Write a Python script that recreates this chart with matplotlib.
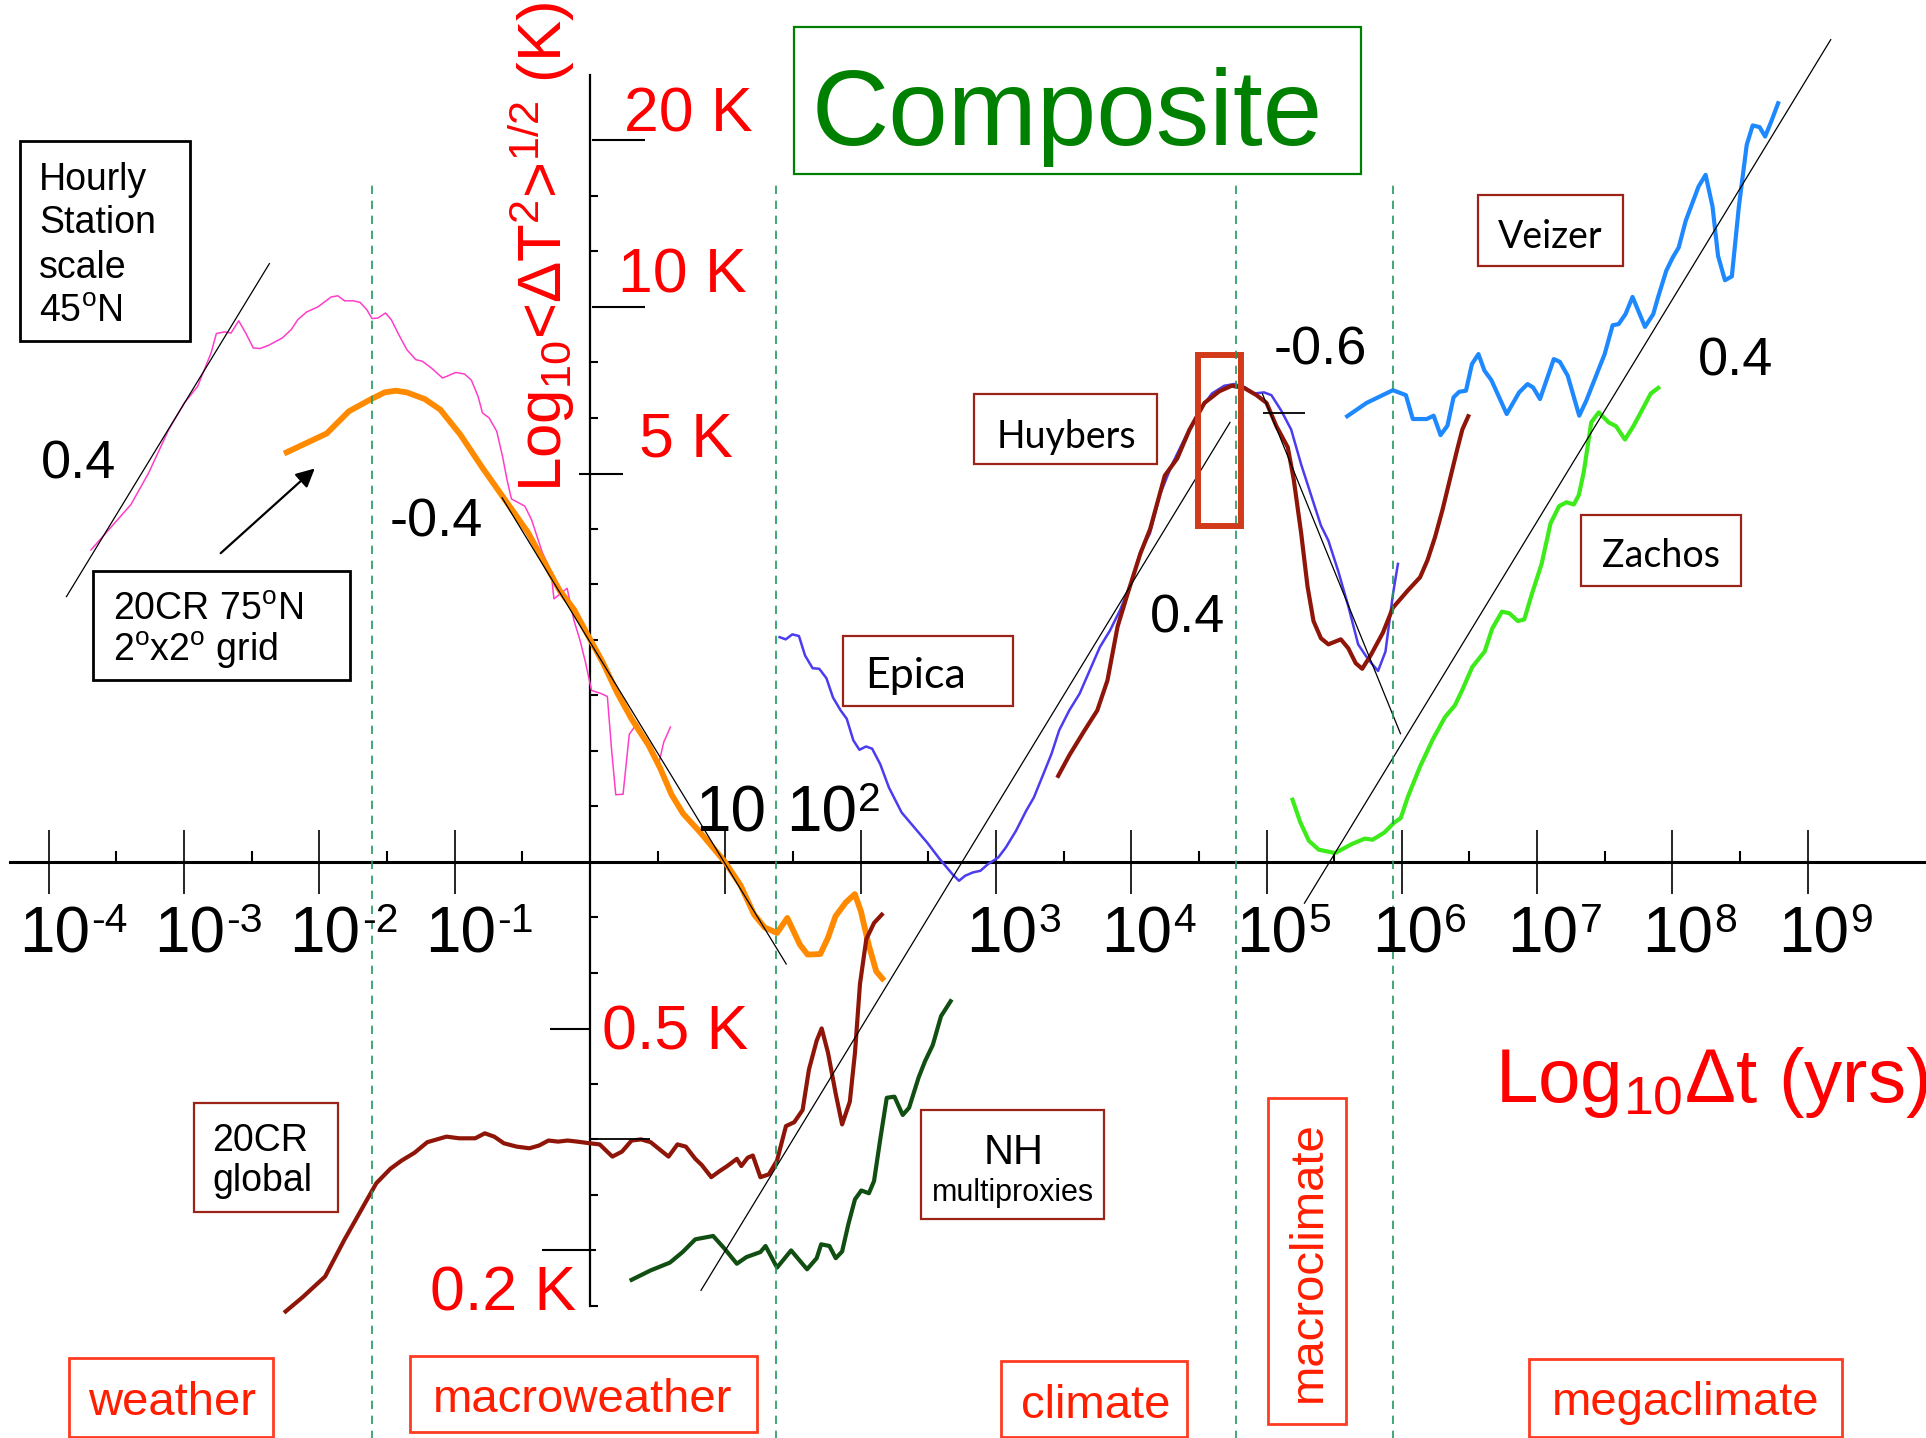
import numpy as np
import matplotlib
matplotlib.use("Agg")
import matplotlib.pyplot as plt
from matplotlib.patches import Rectangle

plt.rcParams["font.family"] = ["Liberation Sans", "DejaVu Sans"]
plt.rcParams["mathtext.fontset"] = "custom"
plt.rcParams["mathtext.rm"] = "Liberation Sans"
plt.rcParams["mathtext.it"] = "Liberation Sans:italic"
plt.rcParams["mathtext.bf"] = "Liberation Sans:bold"

NARROW = ["Liberation Sans Narrow", "Liberation Sans", "DejaVu Sans"]
CALIBRI_LIKE = ["Lato", "DejaVu Sans"]

# ------------------------------------------------------------------
# Composite RMS temperature fluctuation vs time scale
# x: log10(dt / yr), y: log10(<dT^2>^1/2 / K)
# ------------------------------------------------------------------

# hourly station, 45N
station_x = [-3.689, -3.393, -3.262, -3.114, -2.998, -2.900, -2.801, -2.762, -2.702, -2.653,
             -2.597, -2.545, -2.489, -2.439, -2.374, -2.275, -2.209, -2.160, -2.094, -2.012,
             -1.962, -1.913, -1.864, -1.814, -1.749, -1.699, -1.650, -1.611, -1.568, -1.512,
             -1.469, -1.420, -1.354, -1.288, -1.239, -1.173, -1.091, -1.058, -0.992, -0.927,
             -0.877, -0.828, -0.795, -0.746, -0.690, -0.647, -0.614, -0.581, -0.482, -0.433,
             -0.352, -0.288, -0.267, -0.169, -0.119, -0.076, -0.034, 0.011, 0.086, 0.128,
             0.160, 0.190, 0.244, 0.290, 0.349, 0.406, 0.462, 0.507, 0.545, 0.594]
station_y = [0.562, 0.644, 0.701, 0.779, 0.827, 0.857, 0.917, 0.952, 0.955, 0.953,
             0.975, 0.953, 0.926, 0.925, 0.931, 0.944, 0.959, 0.977, 0.991, 1.000,
             1.009, 1.018, 1.020, 1.011, 1.011, 1.008, 0.995, 0.979, 0.980, 0.989,
             0.977, 0.953, 0.923, 0.905, 0.902, 0.890, 0.872, 0.875, 0.882, 0.879,
             0.868, 0.839, 0.809, 0.800, 0.776, 0.731, 0.689, 0.654, 0.641, 0.617,
             0.557, 0.523, 0.474, 0.493, 0.435, 0.401, 0.360, 0.309, 0.303, 0.298,
             0.200, 0.121, 0.122, 0.230, 0.250, 0.219, 0.195, 0.176, 0.216, 0.243]

# 20CR reanalysis, 75N, 2x2 degree grid
r75_x = [-2.242, -1.946, -1.782, -1.617, -1.518, -1.436, -1.354, -1.222, -1.107, -0.959,
         -0.795, -0.610, -0.460, -0.331, -0.225, -0.119, 0.000, 0.093, 0.200, 0.306,
         0.433, 0.518, 0.603, 0.688, 0.815, 0.997, 1.112, 1.213, 1.290, 1.382,
         1.458, 1.551, 1.608, 1.702, 1.758, 1.814, 1.890, 1.957, 2.002, 2.059,
         2.115, 2.160]
r75_y = [0.738, 0.772, 0.812, 0.834, 0.846, 0.849, 0.846, 0.834, 0.815, 0.770,
         0.710, 0.646, 0.594, 0.537, 0.489, 0.455, 0.401, 0.360, 0.305, 0.258,
         0.210, 0.169, 0.121, 0.087, 0.053, 0.000, -0.042, -0.095, -0.118, -0.128,
         -0.101, -0.149, -0.167, -0.166, -0.137, -0.098, -0.073, -0.058, -0.089, -0.149,
         -0.197, -0.210]

# 20CR global mean
glob_x = [-2.250, -2.123, -1.958, -1.816, -1.698, -1.580, -1.476, -1.392, -1.297, -1.203,
          -1.061, -0.967, -0.849, -0.778, -0.708, -0.637, -0.542, -0.448, -0.377, -0.307,
          -0.236, -0.165, -0.094, 0.000, 0.071, 0.165, 0.236, 0.307, 0.377, 0.448,
          0.519, 0.580, 0.646, 0.708, 0.778, 0.825, 0.896, 0.958, 1.014, 1.085,
          1.118, 1.165, 1.203, 1.259, 1.321, 1.382, 1.448, 1.509, 1.571, 1.618,
          1.675, 1.712, 1.759, 1.816, 1.863, 1.920, 1.958, 1.995, 2.042, 2.099, 2.156]
glob_y = [-0.810, -0.784, -0.747, -0.681, -0.630, -0.579, -0.553, -0.538, -0.524, -0.505,
          -0.495, -0.498, -0.498, -0.489, -0.495, -0.507, -0.513, -0.516, -0.511, -0.502,
          -0.504, -0.502, -0.504, -0.507, -0.509, -0.531, -0.522, -0.502, -0.500, -0.505,
          -0.519, -0.531, -0.509, -0.513, -0.535, -0.546, -0.568, -0.557, -0.548, -0.535,
          -0.548, -0.533, -0.529, -0.568, -0.563, -0.538, -0.476, -0.469, -0.447, -0.374,
          -0.322, -0.300, -0.344, -0.418, -0.473, -0.432, -0.344, -0.220, -0.139, -0.110, -0.095]

# Northern Hemisphere multiproxies
nh_x = [0.307, 0.448, 0.590, 0.684, 0.778, 0.910, 0.991, 1.085, 1.156, 1.259,
        1.297, 1.382, 1.486, 1.604, 1.675, 1.708, 1.769, 1.816, 1.863, 1.910,
        1.958, 2.005, 2.061, 2.099, 2.146, 2.193, 2.250, 2.311, 2.358, 2.429,
        2.476, 2.533, 2.594, 2.665]
nh_y = [-0.753, -0.736, -0.722, -0.703, -0.680, -0.674, -0.696, -0.724, -0.712, -0.703,
        -0.692, -0.731, -0.700, -0.734, -0.714, -0.689, -0.692, -0.714, -0.702, -0.652,
        -0.608, -0.592, -0.597, -0.575, -0.498, -0.425, -0.423, -0.456, -0.443, -0.388,
        -0.359, -0.330, -0.278, -0.251]

# Epica ice core
epica_x = [1.401, 1.446, 1.495, 1.544, 1.589, 1.645, 1.694, 1.747, 1.796, 1.852,
           1.897, 1.946, 1.991, 2.040, 2.085, 2.145, 2.209, 2.303, 2.397, 2.491,
           2.585, 2.678, 2.727, 2.772, 2.829, 2.885, 2.941, 3.017, 3.073, 3.148,
           3.223, 3.280, 3.355, 3.411, 3.467, 3.542, 3.618, 3.693, 3.768, 3.843,
           3.918, 3.993, 4.068, 4.138, 4.211, 4.303, 4.413, 4.504, 4.596, 4.688,
           4.761, 4.834, 4.908, 4.981, 5.036, 5.109, 5.182, 5.256, 5.329, 5.402,
           5.457, 5.531, 5.604, 5.677, 5.751, 5.824, 5.879, 5.934, 5.971]
epica_y = [0.405, 0.401, 0.410, 0.407, 0.372, 0.349, 0.348, 0.331, 0.296, 0.273,
           0.258, 0.219, 0.202, 0.208, 0.204, 0.176, 0.134, 0.089, 0.062, 0.035,
           0.005, -0.022, -0.034, -0.025, -0.019, -0.016, -0.004, 0.008, 0.026, 0.056,
           0.092, 0.116, 0.161, 0.195, 0.237, 0.273, 0.303, 0.345, 0.387, 0.417,
           0.454, 0.499, 0.559, 0.592, 0.661, 0.717, 0.772, 0.813, 0.844, 0.858,
           0.861, 0.856, 0.844, 0.846, 0.841, 0.813, 0.779, 0.716, 0.661, 0.606,
           0.579, 0.523, 0.461, 0.392, 0.365, 0.344, 0.379, 0.482, 0.537]

# Huybers stack
huybers_x = [3.460, 3.542, 3.655, 3.749, 3.824, 3.899, 3.974, 4.068, 4.140, 4.248,
             4.340, 4.431, 4.541, 4.651, 4.743, 4.834, 4.926, 5.000, 5.073, 5.157,
             5.201, 5.256, 5.303, 5.347, 5.402, 5.457, 5.549, 5.604, 5.659, 5.707,
             5.769, 5.860, 5.934, 6.044, 6.135, 6.190, 6.245, 6.300, 6.355, 6.410,
             6.447, 6.491]
huybers_y = [0.155, 0.192, 0.237, 0.273, 0.327, 0.424, 0.484, 0.556, 0.600, 0.696,
             0.727, 0.779, 0.827, 0.848, 0.858, 0.854, 0.841, 0.827, 0.785, 0.747,
             0.689, 0.592, 0.496, 0.434, 0.403, 0.392, 0.401, 0.385, 0.358, 0.348,
             0.372, 0.413, 0.458, 0.489, 0.513, 0.544, 0.585, 0.634, 0.689, 0.744,
             0.779, 0.803]

# Zachos benthic stack
zachos_x = [5.192, 5.250, 5.313, 5.386, 5.507, 5.629, 5.726, 5.784, 5.871, 5.944,
            5.992, 6.044, 6.135, 6.227, 6.319, 6.392, 6.447, 6.520, 6.612, 6.667,
            6.740, 6.795, 6.857, 6.905, 6.960, 7.033, 7.099, 7.162, 7.217, 7.271,
            7.308, 7.345, 7.400, 7.455, 7.528, 7.583, 7.649, 7.711, 7.766, 7.840, 7.895]
zachos_y = [0.112, 0.071, 0.038, 0.022, 0.016, 0.032, 0.042, 0.040, 0.053, 0.071,
            0.079, 0.117, 0.172, 0.220, 0.261, 0.282, 0.310, 0.351, 0.379, 0.420,
            0.451, 0.448, 0.434, 0.437, 0.482, 0.537, 0.610, 0.641, 0.648, 0.644,
            0.661, 0.703, 0.792, 0.810, 0.792, 0.785, 0.761, 0.785, 0.810, 0.844, 0.854]

# Veizer Phanerozoic series
veizer_x = [5.596, 5.739, 5.934, 6.030, 6.081, 6.184, 6.235, 6.286, 6.337, 6.382,
            6.423, 6.474, 6.518, 6.566, 6.611, 6.662, 6.775, 6.867, 6.929, 6.970,
            7.021, 7.123, 7.168, 7.226, 7.311, 7.363, 7.455, 7.499, 7.558, 7.602,
            7.653, 7.705, 7.797, 7.858, 7.893, 7.954, 8.002, 8.046, 8.098, 8.193,
            8.245, 8.296, 8.337, 8.388, 8.439, 8.491, 8.549, 8.593, 8.644, 8.685,
            8.730, 8.781]
veizer_y = [0.803, 0.827, 0.850, 0.841, 0.798, 0.798, 0.804, 0.769, 0.786, 0.837,
            0.847, 0.849, 0.897, 0.915, 0.885, 0.868, 0.807, 0.846, 0.861, 0.855,
            0.834, 0.906, 0.901, 0.876, 0.804, 0.831, 0.888, 0.915, 0.967, 0.969,
            0.987, 1.018, 0.964, 0.987, 1.017, 1.065, 1.089, 1.107, 1.155, 1.217,
            1.238, 1.181, 1.092, 1.048, 1.055, 1.181, 1.292, 1.327, 1.324, 1.307,
            1.334, 1.367]

# scaling guides: fluctuation exponent, anchor point and x-extent
guide_slope = [0.4, -0.4, 0.4, -0.6, 0.4]
guide_anchor_x = [-3.12, 0.99, 2.75, 5.48, 5.466]
guide_anchor_y = [0.778, 0.0, 0.0, 0.537, 0.0]
guide_x0 = [-3.87, -0.65, 0.82, 4.97, 5.28]
guide_x1 = [-2.37, 1.45, 4.73, 5.99, 9.17]
guide_labels = ["0.4", "-0.4", "0.4", "-0.6", "0.4"]

# short level markers (x0, x1, y)
level_x0 = [4.974, 0.0]
level_x1 = [5.281, 0.44]
level_y = [0.809, -0.499]

# regime transition scales, log10(yr)
regime_bounds = [-1.61, 1.377, 4.772, 5.934]
regime_names = ["weather", "macroweather", "climate", "macroclimate", "megaclimate"]

# axes ticks
x_decades = [-4, -3, -2, -1, 1, 2, 3, 4, 5, 6, 7, 8, 9]
y_tick_K = [20, 10, 5, 0.5, 0.2]
y_tick_labels = ["20 K", "10 K", "5 K", "0.5 K", "0.2 K"]

# ------------------------------------------------------------------
fig = plt.figure(figsize=(19.26, 14.38), dpi=100)
ax = fig.add_axes([0, 0, 1, 1])
ax.set_xlim(-4.361, 9.874)
ax.set_ylim(-1.038, 1.553)
ax.patch.set_alpha(0)

for side in ("top", "right"):
    ax.spines[side].set_visible(False)
ax.spines["bottom"].set_position(("data", 0))
ax.spines["left"].set_position(("data", 0))
ax.spines["bottom"].set_bounds(-4.29, 9.874)
ax.spines["left"].set_bounds(-0.80, 1.418)
ax.spines["bottom"].set_linewidth(2.2)
ax.spines["left"].set_linewidth(1.6)

ax.set_xticks(x_decades)
ax.set_xticks(np.arange(-3.5, 9.0, 1.0), minor=True)
ax.tick_params(axis="x", which="major", direction="inout", length=46, width=1.2,
               labelbottom=False)
ax.tick_params(axis="x", which="minor", direction="in", length=8, width=1.5)

ymin_ticks = [v for v in np.round(np.arange(-0.8, 1.25, 0.1), 2)
              if abs(v) > 1e-6 and min(abs(v - np.log10(k)) for k in y_tick_K) > 0.03]
ax.set_yticks([])
ax.set_yticks(ymin_ticks, minor=True)
ax.tick_params(axis="y", which="minor", direction="in", length=5.5, width=1.5)

# labelled y ticks
tick_left = [0.013, 0.013, -0.08, -0.297, -0.354]
tick_right = [0.404, 0.404, 0.24, 0.0, 0.045]
ax.hlines(np.log10(y_tick_K), tick_left, tick_right, color="black", lw=1.5, zorder=2)

# regime boundaries
ax.vlines(regime_bounds, -1.04, 1.22, colors="#1E9A5E", lw=1.2,
          linestyles=(0, (5, 4)), zorder=6)

# data curves
ax.plot(station_x, station_y, color="#FF3DC8", lw=1.1, zorder=3)
ax.plot(r75_x, r75_y, color="#FF8A00", lw=4.2, zorder=4, solid_joinstyle="round")
ax.plot(glob_x, glob_y, color="#8F1508", lw=3.0, zorder=4, solid_joinstyle="round")
ax.plot(nh_x, nh_y, color="#104E12", lw=3.0, zorder=4, solid_joinstyle="round")
ax.plot(epica_x, epica_y, color="#4B3CF0", lw=1.8, zorder=4)
ax.plot(huybers_x, huybers_y, color="#8F1508", lw=3.0, zorder=4, solid_joinstyle="round")
ax.plot(zachos_x, zachos_y, color="#3DEB1A", lw=3.0, zorder=4, solid_joinstyle="round")
ax.plot(veizer_x, veizer_y, color="#1E88FF", lw=3.0, zorder=4, solid_joinstyle="round")

# scaling guides
for s, xa, ya, x0, x1 in zip(guide_slope, guide_anchor_x, guide_anchor_y, guide_x0, guide_x1):
    xs = np.array([x0, x1])
    ax.plot(xs, ya + s * (xs - xa), color="black", lw=0.9, zorder=5)
ax.hlines(level_y, level_x0, level_x1, color="black", lw=1.3, zorder=5)

# highlighted window on the Huybers peak
ax.add_patch(Rectangle((4.497, 0.605), 0.312, 0.308, fill=False, ec="#D33A1A", lw=4.3, zorder=5))


# ---- text helpers ----
def frame(x0, y0, w, h, ec, lw=1.6):
    ax.add_patch(Rectangle((x0, y0), w, h, transform=ax.transAxes, fill=False,
                           ec=ec, lw=lw, zorder=7))


def words(x, y, s, size, color="black", ha="center", family=None, **kw):
    kwargs = dict(transform=ax.transAxes, fontsize=size, color=color, ha=ha,
                  va="baseline", zorder=8)
    if family is not None:
        kwargs["family"] = family
    kwargs.update(kw)
    ax.text(x, y, s, **kwargs)


def power_of_ten(xc, yb, exponent, size=46):
    """'10' centred at data point (xc, yb) with a raised exponent after it."""
    base = ax.text(xc, yb, "10", fontsize=size, family=NARROW, ha="center",
                   va="baseline", zorder=8)
    ax.annotate(exponent, xy=(1, 1), xycoords=base, xytext=(1.0, 2.5),
                textcoords="offset points", fontsize=size * 0.64, family=NARROW,
                ha="left", va="top", zorder=8)


# title
frame(0.4120, 0.8787, 0.2946, 0.1025, "#008000", lw=1.6)
words(0.5542, 0.8992, "Composite", 77, color="#008000")

# axis titles
ax.text(0.2915, 0.8284, "Log$_{10}$<ΔT$^{2}$>$^{1/2}$ (K)", transform=ax.transAxes,
        fontsize=44.5, color="#FF0000", rotation=90, rotation_mode="anchor",
        ha="center", va="baseline")
words(0.8884, 0.2340, "Log$_{10}$Δt (yrs)", 55, color="#FF0000")

# y tick labels
ytl_pos = [(0.3240, 0.9086), (0.3208, 0.7968), (0.3316, 0.6823), (0.3125, 0.2699), (0.2232, 0.0888)]
for (x, y), s in zip(ytl_pos, y_tick_labels):
    words(x, y, s, 45, color="#FF0000", ha="left")

# x tick labels: 10 and 10^2 sit above the axis, the rest below
for d in x_decades:
    if d == 1:
        ax.text(1.041, 0.055, "10", fontsize=46, family=NARROW, ha="center",
                va="baseline", zorder=8)
    elif d == 2:
        power_of_ten(1.708, 0.055, "2")
    else:
        power_of_ten(d + 0.04, -0.163, ("-%d" % -d) if d < 0 else "%d" % d)

# slope labels
slope_pos = [(0.0408, 0.6670), (0.2264, 0.6268), (0.6167, 0.5602), (0.6856, 0.7464), (0.9011, 0.7387)]
for (x, y), s in zip(slope_pos, guide_labels):
    words(x, y, s, 39)

# source boxes
frame(0.0102, 0.7626, 0.0886, 0.1392, "black", lw=2.0)
for y, s in zip([0.8676, 0.8377, 0.8070, 0.7763],
                ["Hourly", "Station", "scale", r"45$^{\mathrm{o}}$N"]):
    words(0.0204, y, s, 27, ha="left")

frame(0.0485, 0.5269, 0.1333, 0.0760, "black", lw=2.0)
words(0.0587, 0.5687, r"20CR 75$^{\mathrm{o}}$N", 27, ha="left")
words(0.0587, 0.5406, r"2$^{\mathrm{o}}$x2$^{\mathrm{o}}$ grid", 27, ha="left")
ax.annotate("", xy=(0.1645, 0.6755), xytext=(0.1135, 0.6140),
            xycoords="axes fraction", textcoords="axes fraction",
            arrowprops=dict(arrowstyle="-|>", lw=1.6, color="black", mutation_scale=28))

src_ec = "#9B2317"
frame(0.4375, 0.5090, 0.0886, 0.0487, src_ec)
words(0.4751, 0.5218, "Epica", 31, family=CALIBRI_LIKE)
frame(0.5057, 0.6772, 0.0950, 0.0487, src_ec)
words(0.5536, 0.6883, "Huybers", 27, family=CALIBRI_LIKE)
frame(0.7672, 0.8147, 0.0753, 0.0495, src_ec)
words(0.8048, 0.8275, "Veizer", 27, family=CALIBRI_LIKE)
frame(0.8208, 0.5927, 0.0829, 0.0495, src_ec)
words(0.8622, 0.6055, "Zachos", 27, family=CALIBRI_LIKE)
frame(0.4783, 0.1520, 0.0950, 0.0760, src_ec)
words(0.5261, 0.1904, "NH", 30)
words(0.5261, 0.1648, "multiproxies", 22)
frame(0.1008, 0.1571, 0.0746, 0.0760, src_ec)
words(0.1103, 0.1998, "20CR", 27, ha="left")
words(0.1103, 0.1716, "global", 27, ha="left")

# regime labels
reg_ec = "#FF3B22"
reg_col = "#FF1E00"
frame(0.0357, 0.0009, 0.1059, 0.0547, reg_ec, lw=2.0)
words(0.0893, 0.0162, regime_names[0], 34, color=reg_col)
frame(0.2130, 0.0043, 0.1798, 0.0529, reg_ec, lw=2.0)
words(0.3023, 0.0179, regime_names[1], 34, color=reg_col)
frame(0.5198, 0.0009, 0.0963, 0.0529, reg_ec, lw=2.0)
words(0.5689, 0.0137, regime_names[2], 34, color=reg_col)
frame(0.6582, 0.0094, 0.0408, 0.2272, reg_ec, lw=2.0)
ax.text(0.6798, 0.1230, regime_names[3], transform=ax.transAxes, fontsize=34,
        color=reg_col, rotation=90, rotation_mode="anchor", ha="center", va="center", zorder=8)
frame(0.7940, 0.0009, 0.1626, 0.0538, reg_ec, lw=2.0)
words(0.8750, 0.0162, regime_names[4], 34, color=reg_col)

fig.savefig("out.png", dpi=100)
